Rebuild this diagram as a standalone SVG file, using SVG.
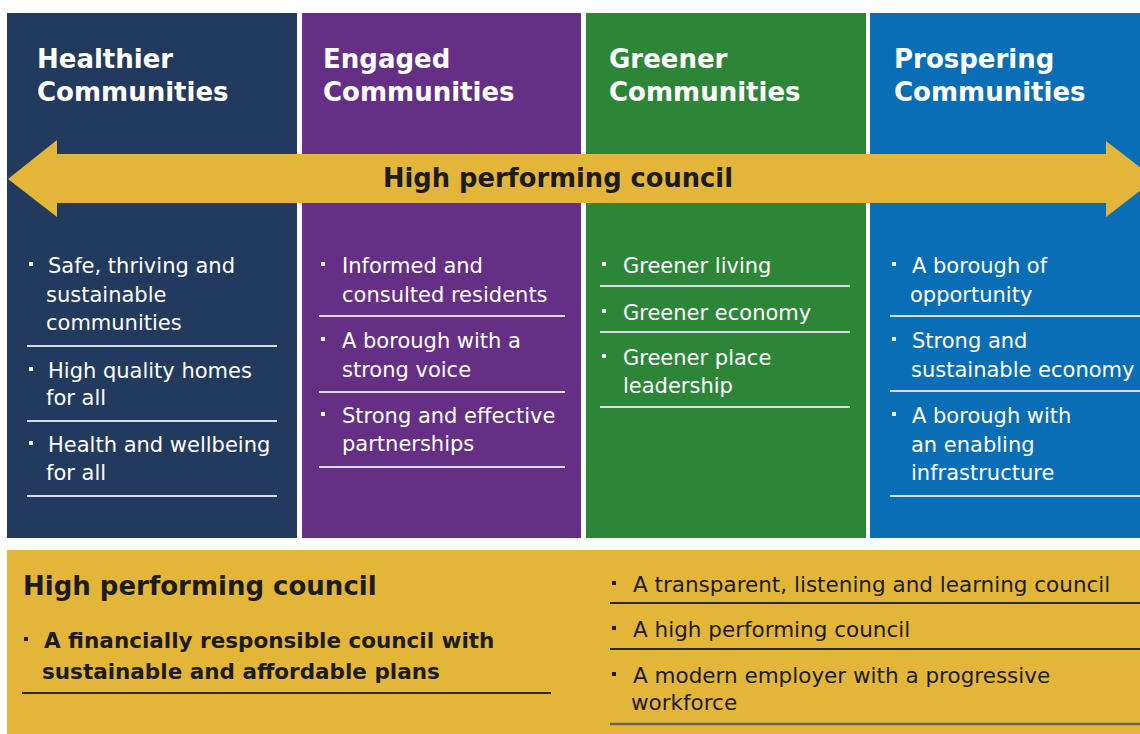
<svg xmlns="http://www.w3.org/2000/svg" width="1140" height="734" viewBox="0 0 1140 734">
<style>
.hd{font-family:"DejaVu Sans",sans-serif;font-weight:bold;font-size:26px;fill:#ffffff}
.bt{font-family:"DejaVu Sans",sans-serif;font-size:21px;fill:#ffffff}
.sep{stroke:#d9dee6;stroke-width:2}
.dot{fill:#ffffff}
.dk{font-family:"DejaVu Sans",sans-serif;fill:#1c1c1c}
.dsep{stroke:#2a2a2a;stroke-width:2}
.ddot{fill:#1c1c1c}
</style>
<rect width="1140" height="734" fill="#ffffff"/>
<g id="col-healthier">
<rect x="7" y="13" width="290" height="525" fill="#223A5E"/>
<text class="hd" x="37" y="68">Healthier</text>
<text class="hd" x="37" y="101">Communities</text>
<rect class="dot" x="29" y="262" width="4" height="4"/>
<text class="bt" x="48" y="273">Safe, thriving and</text>
<text class="bt" x="46" y="302">sustainable</text>
<text class="bt" x="46" y="330">communities</text>
<line class="sep" x1="27" y1="346" x2="277" y2="346"/>
<rect class="dot" x="29" y="367" width="4" height="4"/>
<text class="bt" x="48" y="378">High quality homes</text>
<text class="bt" x="46" y="405">for all</text>
<line class="sep" x1="27" y1="421" x2="277" y2="421"/>
<rect class="dot" x="29" y="441" width="4" height="4"/>
<text class="bt" x="48" y="452">Health and wellbeing</text>
<text class="bt" x="46" y="480">for all</text>
<line class="sep" x1="27" y1="496" x2="277" y2="496"/>
</g>
<g id="col-engaged">
<rect x="302" y="13" width="279" height="525" fill="#642F85"/>
<text class="hd" x="323" y="68">Engaged</text>
<text class="hd" x="323" y="101">Communities</text>
<rect class="dot" x="321" y="262" width="4" height="4"/>
<text class="bt" x="342" y="273">Informed and</text>
<text class="bt" x="342" y="302">consulted residents</text>
<line class="sep" x1="319" y1="316" x2="565" y2="316"/>
<rect class="dot" x="321" y="337" width="4" height="4"/>
<text class="bt" x="342" y="348">A borough with a</text>
<text class="bt" x="342" y="377">strong voice</text>
<line class="sep" x1="319" y1="392" x2="565" y2="392"/>
<rect class="dot" x="321" y="412" width="4" height="4"/>
<text class="bt" x="342" y="423">Strong and effective</text>
<text class="bt" x="342" y="451">partnerships</text>
<line class="sep" x1="319" y1="467" x2="565" y2="467"/>
</g>
<g id="col-greener">
<rect x="586" y="13" width="280" height="525" fill="#2D8638"/>
<text class="hd" x="609" y="68">Greener</text>
<text class="hd" x="609" y="101">Communities</text>
<rect class="dot" x="602" y="262" width="4" height="4"/>
<text class="bt" x="623" y="273">Greener living</text>
<line class="sep" x1="600" y1="286" x2="850" y2="286"/>
<rect class="dot" x="602" y="309" width="4" height="4"/>
<text class="bt" x="623" y="320">Greener economy</text>
<line class="sep" x1="600" y1="332" x2="850" y2="332"/>
<rect class="dot" x="602" y="354" width="4" height="4"/>
<text class="bt" x="623" y="365">Greener place</text>
<text class="bt" x="623" y="393">leadership</text>
<line class="sep" x1="600" y1="407" x2="850" y2="407"/>
</g>
<g id="col-prospering">
<rect x="870" y="13" width="270" height="525" fill="#0A6EB6"/>
<text class="hd" x="894" y="68">Prospering</text>
<text class="hd" x="894" y="101">Communities</text>
<rect class="dot" x="892" y="262" width="4" height="4"/>
<text class="bt" x="912" y="273">A borough of</text>
<text class="bt" x="910" y="302">opportunity</text>
<line class="sep" x1="890" y1="316" x2="1140" y2="316"/>
<rect class="dot" x="892" y="337" width="4" height="4"/>
<text class="bt" x="912" y="348">Strong and</text>
<text class="bt" x="911" y="377">sustainable economy</text>
<line class="sep" x1="890" y1="391" x2="1140" y2="391"/>
<rect class="dot" x="892" y="412" width="4" height="4"/>
<text class="bt" x="912" y="423">A borough with</text>
<text class="bt" x="911" y="452">an enabling</text>
<text class="bt" x="911" y="480">infrastructure</text>
<line class="sep" x1="890" y1="496" x2="1140" y2="496"/>
</g>
<g id="arrow">
<polygon points="8,179 57,140 57,154 1106,154 1106,141 1155,179 1106,217 1106,203 57,203 57,217" fill="#E3B63A"/>
<text class="dk" x="383" y="187" font-size="26" font-weight="bold" textLength="350" lengthAdjust="spacingAndGlyphs">High performing council</text>
</g>
<g id="council">
<rect x="7" y="550" width="1140" height="190" fill="#E3B63A"/>
<text class="dk" x="23" y="595" font-size="26" font-weight="bold">High performing council</text>
<rect class="ddot" x="24" y="637" width="4" height="4"/>
<text class="dk" x="44" y="648" font-size="21.5" font-weight="bold">A financially responsible council with</text>
<text class="dk" x="42" y="679" font-size="21.5" font-weight="bold">sustainable and affordable plans</text>
<line class="dsep" x1="22" y1="693" x2="551" y2="693"/>
<rect class="ddot" x="612" y="581" width="4" height="4"/>
<text class="dk" x="633" y="592" font-size="21.5">A transparent, listening and learning council</text>
<line class="dsep" x1="610" y1="603" x2="1140" y2="603"/>
<rect class="ddot" x="612" y="626" width="4" height="4"/>
<text class="dk" x="633" y="637" font-size="21.5">A high performing council</text>
<line class="dsep" x1="610" y1="649" x2="1140" y2="649"/>
<rect class="ddot" x="612" y="672" width="4" height="4"/>
<text class="dk" x="633" y="683" font-size="21.5">A modern employer with a progressive</text>
<text class="dk" x="631" y="710" font-size="21.5">workforce</text>
<line x1="610" y1="724" x2="1140" y2="724" stroke="#6a6650" stroke-width="2.5"/>
</g>
</svg>
